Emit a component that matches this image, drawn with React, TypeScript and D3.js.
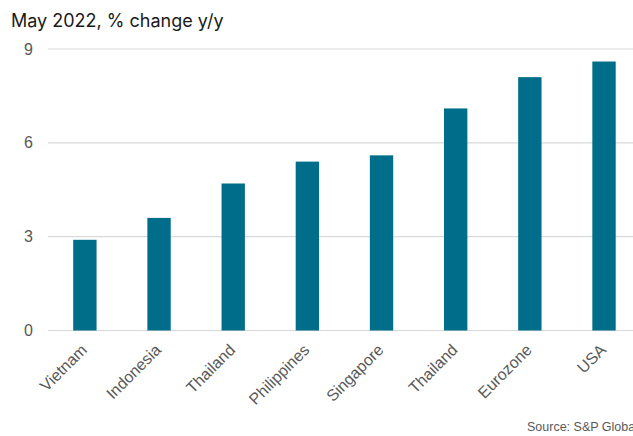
import React from "react";
import * as d3 from "d3";

const categories = ["Vietnam", "Indonesia", "Thailand", "Philippines", "Singapore", "Thailand ", "Eurozone", "USA"];
const values = [2.9, 3.6, 4.7, 5.4, 5.6, 7.1, 8.1, 8.6];
const yTicks = [0, 3, 6, 9];
const title = "May 2022, % change y/y";
const source = "Source: S&P Global";

const W = 633;
const H = 436;

export default function App() {
  const x = d3.scaleBand<string>().domain(categories).range([47.8, 641.1]).paddingInner(0.685).paddingOuter(0.3425);
  const y = d3.scaleLinear().domain([0, 9]).range([330.5, 49]);
  return (
    <svg width={W} height={H} style={{ position: "absolute", left: 0, top: 0, background: "#fff" }}>
      <text x={11} y={27} fontFamily="Inter, 'Open Sans', sans-serif" fontSize={18} fill="#1a1a1a">
        {title}
      </text>
      {yTicks.map((t) => (
        <g key={t}>
          <line x1={48} x2={W} y1={y(t)} y2={y(t)} stroke="#d9d9d9" strokeWidth={1.2} />
          <text x={33} y={y(t)} dy="0.35em" textAnchor="end" fontFamily="'Liberation Sans', Arial, sans-serif" fontSize={16} fill="#595959">
            {t}
          </text>
        </g>
      ))}
      {categories.map((c, i) => (
        <rect key={c} x={x(c)} y={y(values[i])} width={x.bandwidth()} height={y(0) - y(values[i])} fill="#006E8A" />
      ))}
      {categories.map((c) => {
        const cx = (x(c) as number) + x.bandwidth() / 2 - 1;
        const cy = 347;
        return (
          <text key={c} transform={`translate(${cx},${cy}) rotate(-45)`} textAnchor="end" dy="0.35em" fontFamily="'Liberation Sans', Arial, sans-serif" fontSize={16} fill="#595959">
            {c.trim()}
          </text>
        );
      })}
      <text x={527} y={431} fontFamily="'Liberation Sans', Arial, sans-serif" fontSize={12.5} fill="#595959">
        {source}
      </text>
    </svg>
  );
}
